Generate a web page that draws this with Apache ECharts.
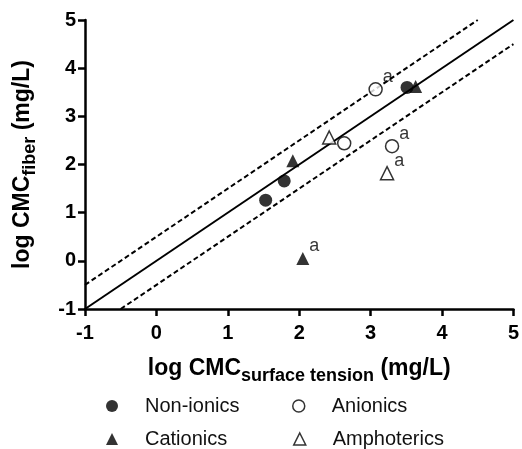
<!DOCTYPE html>
<html>
<head>
<meta charset="utf-8">
<script src="https://cdn.jsdelivr.net/npm/echarts@6/dist/echarts.min.js"></script>
<style>html,body{margin:0;padding:0;background:#fff}#c{width:522px;height:449px}</style>
</head>
<body>
<div id="c"></div>
<script>
// Data (log CMC surface tension, log CMC fiber, outlier flag "a")
const nonionicsX = [1.53, 1.79, 3.51];
const nonionicsY = [1.26, 1.66, 3.60];
const nonionicsA = [false, false, false];

const cationicsX = [1.91, 2.05, 3.63];
const cationicsY = [2.08, 0.05, 3.62];
const cationicsA = [false, true, false];

const anionicsX = [3.07, 2.63, 3.30];
const anionicsY = [3.56, 2.44, 2.38];
const anionicsA = [true, false, true];

const amphotericsX = [2.42, 3.23];
const amphotericsY = [2.56, 1.82];
const amphotericsA = [false, true];

const identityLine = [[-1, -1], [5, 5]];
const upperBand = [[-1, -0.5], [4.5, 5]];
const lowerBand = [[-0.5, -1], [5, 4.5]];

const axisTicks = [-1, 0, 1, 2, 3, 4, 5];

const FONT = 'Liberation Sans, Arial, Helvetica, sans-serif';

function pts(xs, ys, flags) {
  return xs.map((x, i) => {
    const item = { value: [x, ys[i]] };
    if (flags[i]) {
      item.label = {
        show: true, formatter: 'a', position: 'right', distance: 0,
        offset: [0, -12], color: '#000', fontSize: 18, fontFamily: FONT
      };
    }
    return item;
  });
}

const chart = echarts.init(document.getElementById('c'), null, { renderer: 'canvas' });

const axisCommon = {
  type: 'value', min: -1, max: 5, interval: 1,
  axisLine: { show: true, onZero: false, lineStyle: { color: '#000', width: 2.5 } },
  axisTick: { show: true, inside: false, length: 7, lineStyle: { color: '#000', width: 2.5 } },
  splitLine: { show: false },
  axisLabel: { color: '#000', fontSize: 20, fontWeight: 'bold', fontFamily: FONT,
    formatter: v => axisTicks.includes(v) ? String(v) : '' },
  nameLocation: 'middle'
};

const richName = {
  m: { fontSize: 23, fontWeight: 'bold', fontFamily: FONT, color: '#000', lineHeight: 32 },
  s: { fontSize: 18, fontWeight: 'bold', fontFamily: FONT, color: '#000', lineHeight: 18, verticalAlign: 'bottom' }
};

function legendAt(name, left, top, icon, style) {
  return {
    data: [{ name: name, icon: icon, itemStyle: style }],
    left: left, top: top, padding: 0,
    itemWidth: 12, itemHeight: 12,
    textStyle: { color: '#111', fontSize: 20, fontFamily: FONT, padding: [0, 0, 0, 22] },
    selectedMode: false
  };
}

const filled = { color: '#000', borderWidth: 0 };
const hollow = { color: '#fff', borderColor: '#000', borderWidth: 1.5 };

chart.setOption({
  animation: false,
  backgroundColor: '#fff',
  grid: { left: 85, right: 7, top: 20, bottom: 140, containLabel: false },
  xAxis: Object.assign({}, axisCommon, {
    axisLabel: Object.assign({}, axisCommon.axisLabel, { margin: 14 }),
    name: '{m|log CMC}{s|surface tension}{m| (mg/L)}',
    nameGap: 44,
    nameTextStyle: { rich: richName }
  }),
  yAxis: Object.assign({}, axisCommon, {
    axisLabel: Object.assign({}, axisCommon.axisLabel, { margin: 9 }),
    name: '{m|log CMC}{s|fiber}{m| (mg/L)}',
    nameGap: 46,
    nameRotate: 90,
    nameTextStyle: { rich: richName }
  }),
  legend: [
    legendAt('Non-ionics', 106, 396, 'circle', filled),
    legendAt('Anionics', 292, 396, 'circle', hollow),
    legendAt('Cationics', 106, 429, 'triangle', filled),
    legendAt('Amphoterics', 293, 429, 'triangle', hollow)
  ],
  series: [
    { type: 'line', data: identityLine, symbol: 'none', silent: true,
      lineStyle: { color: '#000', width: 2 }, z: 1 },
    { type: 'line', data: upperBand, symbol: 'none', silent: true,
      lineStyle: { color: '#000', width: 2, type: [5, 3] }, z: 1 },
    { type: 'line', data: lowerBand, symbol: 'none', silent: true,
      lineStyle: { color: '#000', width: 2, type: [5, 3] }, z: 1 },
    { name: 'Non-ionics', type: 'scatter', symbol: 'circle', symbolSize: 13,
      itemStyle: filled, data: pts(nonionicsX, nonionicsY, nonionicsA), z: 3 },
    { name: 'Anionics', type: 'scatter', symbol: 'circle', symbolSize: 13,
      itemStyle: hollow, data: pts(anionicsX, anionicsY, anionicsA), z: 3 },
    { name: 'Cationics', type: 'scatter', symbol: 'triangle', symbolSize: 13,
      itemStyle: filled, data: pts(cationicsX, cationicsY, cationicsA), z: 3 },
    { name: 'Amphoterics', type: 'scatter', symbol: 'triangle', symbolSize: 13,
      itemStyle: hollow, data: pts(amphotericsX, amphotericsY, amphotericsA), z: 3 }
  ]
});
</script>
</body>
</html>
